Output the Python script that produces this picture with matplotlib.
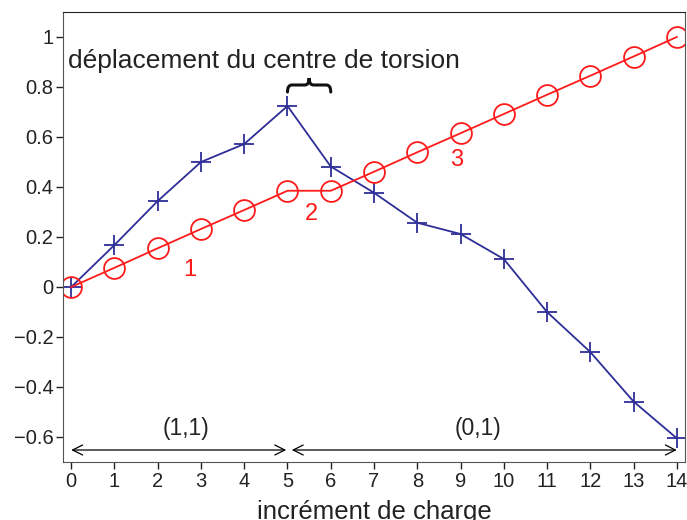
import matplotlib
matplotlib.use('Agg')
import matplotlib.pyplot as plt
from matplotlib.path import Path
from matplotlib.patches import PathPatch

plt.rcParams['font.family'] = ['Liberation Sans', 'DejaVu Sans']

increments = list(range(15))
blue_vals = [0.0, 0.168, 0.344, 0.50, 0.572, 0.724, 0.482, 0.377, 0.257, 0.212, 0.112,
             -0.10, -0.26, -0.458, -0.605]
red_vals = [0.0, 0.077, 0.155, 0.232, 0.308, 0.385, 0.385, 0.461, 0.539, 0.615, 0.692,
            0.769, 0.845, 0.922, 1.0]
xticks = list(range(15))
yticks = [-0.6, -0.4, -0.2, 0, 0.2, 0.4, 0.6, 0.8, 1]
ytick_labels = ['\u22120.6', '\u22120.4', '\u22120.2', '0', '0.2', '0.4', '0.6', '0.8', '1']

fig = plt.figure(figsize=(6.87, 5.2), dpi=100)
ax = fig.add_axes([63/687, 1 - 462/520, (685 - 63)/687, (462 - 12)/520])

blue = '#2e2e98'
red = '#ff1a1a'
ax.plot(increments, blue_vals, '-', marker='+', color=blue, lw=1.3, ms=15, mew=1.3)
ax.plot(increments, red_vals, '-', marker='o', color=red, lw=1.3, ms=15, mew=1.3,
        mfc='none')

ax.set_xlim(-0.19, 14.19)
ax.set_ylim(-0.7, 1.1)
ax.set_xticks(xticks)
ax.set_yticks(yticks)
ax.set_yticklabels(ytick_labels)
ax.tick_params(direction='out', length=5, width=1, labelsize=14.5, colors='#222222',
               pad=2)
for side in ['left', 'bottom', 'right']:
    ax.spines[side].set_color('#555555')
ax.spines['top'].set_color('#222222')

ax.set_xlabel('incrément de charge', fontsize=18.5, color='#222222', labelpad=7)

ax.text(-0.07, 0.905, 'déplacement du centre de torsion', fontsize=19, color='#222222',
        va='center', ha='left')

# curly brace over increments 5-6
verts = [(5.0, 0.78), (5.0, 0.808), (5.1, 0.808), (5.4, 0.808),
         (5.5, 0.808), (5.5, 0.836), (5.5, 0.808), (5.6, 0.808),
         (5.9, 0.808), (6.0, 0.808), (6.0, 0.78)]
codes = [Path.MOVETO, Path.CURVE3, Path.CURVE3, Path.LINETO,
         Path.CURVE3, Path.CURVE3, Path.CURVE3, Path.CURVE3,
         Path.LINETO, Path.CURVE3, Path.CURVE3]
ax.add_patch(PathPatch(Path(verts, codes), fill=False, lw=2.2, color='#111111',
                       capstyle='round'))

ax.text(2.75, 0.068, '1', color=red, fontsize=17, ha='center', va='center')
ax.text(5.55, 0.29, '2', color=red, fontsize=17, ha='center', va='center')
ax.text(8.9, 0.51, '3', color=red, fontsize=17, ha='center', va='center')

ax.annotate('', xy=(4.97, -0.652), xytext=(0.0, -0.652),
            arrowprops=dict(arrowstyle='<->', lw=0.9, color='black', mutation_scale=18,
                            shrinkA=0, shrinkB=0))
ax.annotate('', xy=(14.0, -0.652), xytext=(5.1, -0.652),
            arrowprops=dict(arrowstyle='<->', lw=0.9, color='black', mutation_scale=18,
                            shrinkA=0, shrinkB=0))
ax.text(2.66, -0.565, '(1,1)', fontsize=16.5, color='#222222', ha='center', va='center')
ax.text(9.4, -0.565, '(0,1)', fontsize=16.5, color='#222222', ha='center', va='center')

fig.savefig('out.png', dpi=100)
plt.close(fig)
